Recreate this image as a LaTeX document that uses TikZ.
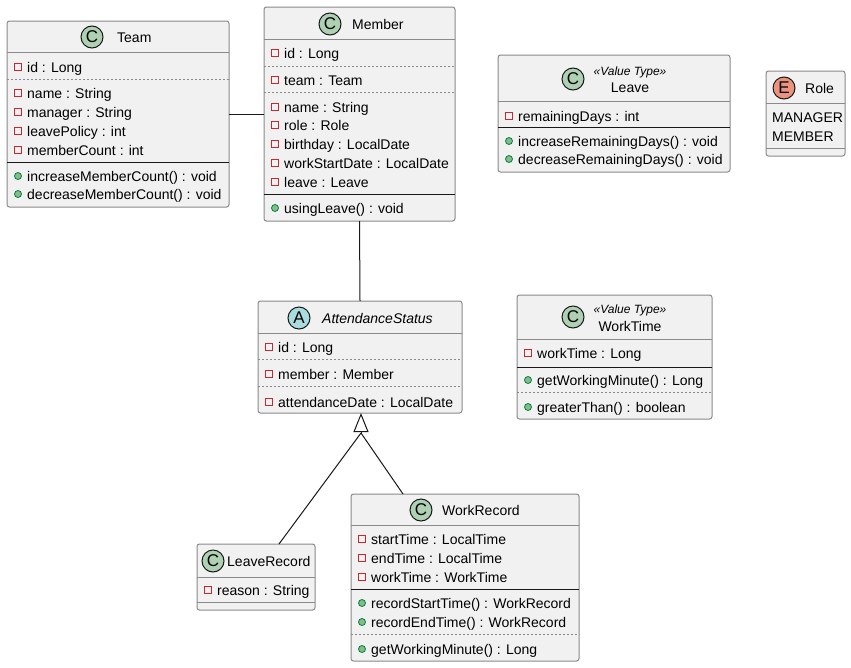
\documentclass[tikz,border=0pt]{standalone}
\usepackage{fontspec}
\setmainfont{Liberation Sans}
\usetikzlibrary{arrows.meta,calc}
\definecolor{boxfill}{HTML}{F1F1F1}
\definecolor{bord}{HTML}{8A8A8A}
\definecolor{privred}{HTML}{C82930}
\definecolor{pubfill}{HTML}{84BE84}
\definecolor{pubdraw}{HTML}{038048}
\definecolor{cfill}{HTML}{ADD1B2}
\definecolor{efill}{HTML}{EB937F}
\definecolor{afill}{HTML}{A9DCDF}
\definecolor{ink}{HTML}{181818}
\tikzset{
 classbox/.style={draw=bord, fill=boxfill, rounded corners=2.5pt, line width=1pt, anchor=north west, inner sep=0pt, outer sep=0pt},
 hsep/.style={draw=bord, line width=1pt},
 msep/.style={draw=ink, line width=1pt},
 dsep/.style={draw=bord, line width=0.8pt, dash pattern=on 2pt off 2pt},
 attr/.style={anchor=base west, inner sep=0pt, font=\fontsize{14}{14}\selectfont, text=black},
 privicon/.style={draw=privred, line width=1.1pt, minimum size=7pt, inner sep=0pt},
 pubicon/.style={circle, draw=pubdraw, fill=pubfill, minimum size=7pt, inner sep=0pt, line width=0.8pt},
 badge/.style={circle, draw=ink, line width=1pt, minimum size=22pt, inner sep=0pt, font=\fontsize{17}{17}\selectfont},
 ctitle/.style={anchor=base west, inner sep=0pt, font=\fontsize{14}{14}\selectfont},
 ctitlec/.style={anchor=base, inner sep=0pt, font=\fontsize{14}{14}\selectfont},
 stereo/.style={anchor=base, inner sep=0pt, font=\fontsize{12}{12}\selectfont\itshape},
 conn/.style={draw=ink, line width=1pt},
}
\newcommand\cbox[5]{\node[classbox, minimum width=#4-#2, minimum height=#5-#3] (#1) at (#2,#3) {};}
\newcommand\sepl[3]{\draw[#1] (#2.west |- 0,#3) -- (#2.east |- 0,#3);}
\newcommand\pv[4]{\node[privicon] (#1i) at (#2+11,#3) {}; \node[attr] (#1) at (#2+20,#3+5) {#4};}
\newcommand\pb[4]{\node[pubicon] (#1i) at (#2+11,#3) {}; \node[attr] (#1) at (#2+20,#3+5) {#4};}
\begin{document}
\begin{tikzpicture}[x=1pt,y=-1pt]
\useasboundingbox (0,0) rectangle (851,667);
\fill[white] (0,0) rectangle (851,667);

% Team
\cbox{team}{7}{21}{229}{207}
\node[badge, fill=cfill] (teamb) at (92,37) {C};
\node[ctitle] (teamt) at (117,42) {Team};
\sepl{hsep}{team}{52}
\pv{teamid}{7}{67}{id : Long}
\sepl{dsep}{team}{79}
\pv{teamname}{7}{93}{name : String}
\pv{teammgr}{7}{112}{manager : String}
\pv{teamlp}{7}{131}{leavePolicy : int}
\pv{teammc}{7}{150}{memberCount : int}
\sepl{msep}{team}{162}
\pb{teamim}{7}{176}{increaseMemberCount() : void}
\pb{teamdm}{7}{194}{decreaseMemberCount() : void}

% Member
\cbox{member}{264}{7}{455}{221}
\node[badge, fill=cfill] (memberb) at (330,24) {C};
\node[ctitle] (membert) at (352,29) {Member};
\sepl{hsep}{member}{39}
\pv{memid}{264}{53}{id : Long}
\sepl{dsep}{member}{66}
\pv{memteam}{264}{80}{team : Team}
\sepl{dsep}{member}{92}
\pv{memname}{264}{107}{name : String}
\pv{memrole}{264}{125}{role : Role}
\pv{membd}{264}{144}{birthday : LocalDate}
\pv{memwsd}{264}{163}{workStartDate : LocalDate}
\pv{memleave}{264}{182}{leave : Leave}
\sepl{msep}{member}{194}
\pb{memul}{264}{208}{usingLeave() : void}

% Leave
\cbox{leave}{498}{55}{730}{172}
\node[badge, fill=cfill] (leaveb) at (573,79) {C};
\node[stereo] (leaves) at (630,75) {«Value Type»};
\node[ctitlec] (leavet) at (630,92) {Leave};
\sepl{hsep}{leave}{101}
\pv{lvrd}{498}{116}{remainingDays : int}
\sepl{msep}{leave}{127}
\pb{lvinc}{498}{141}{increaseRemainingDays() : void}
\pb{lvdec}{498}{159}{decreaseRemainingDays() : void}

% Role
\cbox{role}{766}{71}{845}{156}
\node[badge, fill=efill] (roleb) at (784,88) {E};
\node[ctitle] (rolet) at (805,93) {Role};
\sepl{hsep}{role}{103}
\node[attr] (rolemgr) at (772,122) {MANAGER};
\node[attr] (rolemem) at (772,141) {MEMBER};
\sepl{hsep}{role}{148}

% AttendanceStatus
\cbox{att}{258}{301}{462}{413}
\node[badge, fill=afill] (attb) at (299,318) {A};
\node[ctitle, font=\fontsize{14}{14}\selectfont\itshape] (attt) at (322,323) {AttendanceStatus};
\sepl{hsep}{att}{333}
\pv{attid}{258}{347}{id : Long}
\sepl{dsep}{att}{359}
\pv{attmem}{258}{374}{member : Member}
\sepl{dsep}{att}{386}
\pv{attdate}{258}{402}{attendanceDate : LocalDate}

% WorkTime
\cbox{wt}{517}{295}{712}{419}
\node[badge, fill=cfill] (wtb) at (573,317) {C};
\node[stereo] (wts) at (630,313) {«Value Type»};
\node[ctitlec] (wtt) at (630,331) {WorkTime};
\sepl{hsep}{wt}{339}
\pv{wtwt}{517}{353}{workTime : Long}
\sepl{msep}{wt}{367}
\pb{wtgwm}{517}{380}{getWorkingMinute() : Long}
\sepl{dsep}{wt}{392}
\pb{wtgt}{517}{407}{greaterThan() : boolean}

% LeaveRecord
\cbox{lr}{197}{544}{315}{610}
\node[badge, fill=cfill] (lrb) at (213,561) {C};
\node[ctitle] (lrt) at (227,566) {LeaveRecord};
\sepl{hsep}{lr}{577}
\pv{lrreason}{197}{590}{reason : String}
\sepl{hsep}{lr}{602}

% WorkRecord
\cbox{wr}{351}{494}{579}{661}
\node[badge, fill=cfill] (wrb) at (421,510) {C};
\node[ctitle] (wrt) at (442,515) {WorkRecord};
\sepl{hsep}{wr}{525}
\pv{wrst}{351}{539}{startTime : LocalTime}
\pv{wret}{351}{558}{endTime : LocalTime}
\pv{wrwt}{351}{577}{workTime : WorkTime}
\sepl{msep}{wr}{589}
\pb{wrrst}{351}{603}{recordStartTime() : WorkRecord}
\pb{wrret}{351}{622}{recordEndTime() : WorkRecord}
\sepl{dsep}{wr}{634}
\pb{wrgwm}{351}{649}{getWorkingMinute() : Long}

% connectors
\draw[conn] (team.east) -- (member.west);
\draw[conn] (member.south) -- (att.north);
\coordinate (inh) at (361,433);
\coordinate (lrtop) at (279,544);
\coordinate (wrtop) at (403,494);
\draw[conn] (lrtop) -- (inh);
\draw[conn] (wrtop) -- (inh);
\draw[conn, -{Triangle[open, width=15pt, length=19pt, line width=1pt]}] (inh) -- (inh |- att.south);
\end{tikzpicture}
\end{document}
